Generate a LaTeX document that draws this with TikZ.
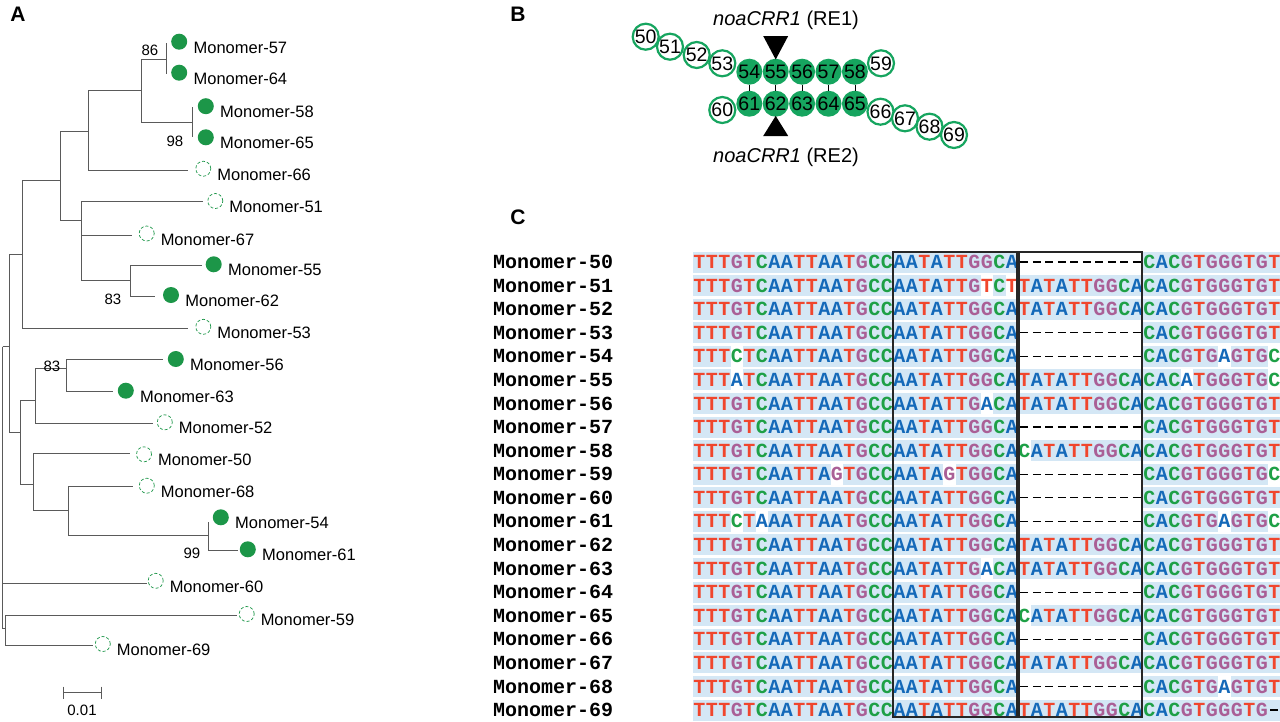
\documentclass[tikz,border=0pt]{standalone}
\usepackage{fontspec}
\setmainfont{Liberation Sans}
\newfontfamily\seqfont{Liberation Mono}
\usetikzlibrary{positioning}

\definecolor{dotgreen}{RGB}{28,150,72}
\definecolor{ringgreen}{RGB}{22,165,95}
\definecolor{rowblue}{RGB}{212,231,245}
\definecolor{ntA}{RGB}{20,105,185}
\definecolor{ntC}{RGB}{30,160,70}
\definecolor{ntG}{RGB}{170,95,150}
\definecolor{ntT}{RGB}{240,70,45}
\definecolor{treegray}{RGB}{90,90,90}

\tikzset{
  branch/.style={draw=treegray, line width=0.9pt},
  fulldot/.style={circle, fill=dotgreen, minimum size=16pt, inner sep=0pt},
  opendot/.style={circle, draw=dotgreen, densely dashed, line width=0.7pt, minimum size=15pt, inner sep=0pt},
  leaflab/.style={anchor=west, font=\fontsize{16.5}{16.5}\selectfont, inner sep=0pt},
  boot/.style={font=\fontsize{15}{15}\selectfont, inner sep=0pt},
  panel/.style={font=\fontsize{21}{21}\selectfont\bfseries, inner sep=0pt},
  mono/.style={circle, minimum size=26pt, inner sep=0pt, font=\fontsize{19.5}{19.5}\selectfont},
  monoopen/.style={mono, draw=ringgreen, line width=2.2pt, fill=white},
  monofull/.style={mono, fill=ringgreen},
  crr/.style={font=\fontsize{20}{20}\selectfont, inner sep=0pt},
  seqname/.style={anchor=west, font=\seqfont\bfseries\fontsize{20}{20}\selectfont, inner sep=0pt},
  base/.style={font=\seqfont\bfseries\fontsize{20}{20}\selectfont, inner sep=0pt},
}

% one aligned row, letter by letter
\makeatletter
\newcount\seqcol
\def\seqline#1{%
  \seqcol=0
  \@tfor\seqch:=#1\do{%
    \pgfmathsetmacro\bx{699.25+12.5*\the\seqcol}%
    \if\seqch-%
      \ifnum\seqcol<36 \fill[white] (\bx-6.25,\ry-10.5) rectangle (\bx+6.25,\ry+10.5);\fi
      \draw[line width=1.2pt] (\bx-4,\ry) -- (\bx+4,\ry);
    \else
      \edef\bcol{nt\seqch}%
      \node[base, text=\bcol] at (\bx,\ry) {\seqch};
    \fi
    \advance\seqcol by 1
  }}
\makeatother

\begin{document}
\begin{tikzpicture}[x=1pt,y=-1pt]
\useasboundingbox (0,0) rectangle (1280,721);
\fill[white] (0,0) rectangle (1280,721);

% A: tree
\node[panel] (pa) at (18,14) {A};
\coordinate (t57) at (166.7,43);   \coordinate (t64) at (166.7,74);
\coordinate (n5764) at (166.7,59.3);
\coordinate (t58) at (192.3,106.7); \coordinate (t65) at (192.3,137.3);
\coordinate (n5865) at (192.3,122.3);
\coordinate (na) at (141.7,90);
\coordinate (t66) at (188.3,170.7);
\coordinate (nb) at (88.3,131.7);
\coordinate (t51) at (203.3,201);  \coordinate (t67) at (131.7,235);
\coordinate (t55) at (201.7,265.7); \coordinate (t62) at (155,296);
\coordinate (n5562) at (130,280.7);
\coordinate (nc) at (81.7,220.7);
\coordinate (ne) at (60,180);
\coordinate (t53) at (188.3,328.3);
\coordinate (nf) at (22.3,254);
\coordinate (t56) at (163.3,359);  \coordinate (t63) at (113.3,391.7);
\coordinate (n5663) at (66.7,368.3);
\coordinate (t52) at (153.3,423.3);
\coordinate (nr) at (35,400);
\coordinate (t50) at (130,453.3);  \coordinate (t68) at (133.3,486.7);
\coordinate (t54) at (208.3,521.7); \coordinate (t61) at (238.3,550.7);
\coordinate (n5461) at (208.3,535);
\coordinate (nt) at (68.3,510.7);
\coordinate (ns) at (33.3,484);
\coordinate (nq) at (20,432.3);
\coordinate (np) at (9.3,346.7);
\coordinate (t60) at (146.7,583.3); \coordinate (t59) at (236.7,615);
\coordinate (t69) at (93.3,645);
\coordinate (n5969) at (5,628.3);
\coordinate (root) at (2.7,346.7);

\foreach \a/\b in {n5764/t57, n5764/t64, n5865/t58, n5865/t65, na/n5764, na/n5865,
  nb/na, nb/t66, n5562/t55, n5562/t62, nc/t51, nc/t67, nc/n5562, ne/nb, ne/nc,
  nf/ne, nf/t53, n5663/t56, n5663/t63, nr/n5663, nr/t52, n5461/t54, n5461/t61,
  nt/t68, nt/n5461, ns/t50, ns/nt, nq/nr, nq/ns, np/nf, np/nq,
  n5969/t59, n5969/t69, root/np, root/t60, root/n5969}
  \draw[branch] (\a) |- (\b);

\foreach \t/\kind/\dx/\dy in {57/fulldot/12.5/1.3, 64/fulldot/12.5/1.3, 58/fulldot/13.5/0.5,
  65/fulldot/13.5/0, 66/opendot/15/2, 51/opendot/12/0, 67/opendot/15/1.5,
  55/fulldot/12/1.4, 62/fulldot/16/1, 53/opendot/15/1.5, 56/fulldot/12.5/0,
  63/fulldot/12.5/1, 52/opendot/11.5/1, 50/opendot/14/-1, 68/opendot/13.5/1,
  54/fulldot/12.5/4.4, 61/fulldot/9.5/1.4, 60/opendot/9/2.5, 59/opendot/10/1,
  69/opendot/9.5/1} {
  \node[\kind, xshift=\dx pt, yshift=\dy pt] (d\t) at (t\t) {};
  \node[leaflab] (l\t) at ([xshift=6pt,yshift=-6pt]d\t.east) {Monomer-\t};
}

\node[boot] (b86) at (150,50) {86};
\node[boot] (b98) at (175,141) {98};
\node[boot] (b83a) at (113,299) {83};
\node[boot] (b83b) at (52,366) {83};
\node[boot] (b99) at (192,553) {99};

\coordinate (sba) at (63.3,692.7);
\coordinate (sbb) at (101.7,692.7);
\draw[branch] (sba) -- (sbb);
\draw[branch] ([yshift=6pt]sba) -- ([yshift=-6pt]sba);
\draw[branch] ([yshift=6pt]sbb) -- ([yshift=-6pt]sbb);
\node[boot] (sb) at (82,710) {0.01};

% B: ring of monomers
\node[panel] (pb) at (518,14) {B};
\node[monoopen] (m50) at (645.7,36.7) {50};
\node[monoopen] (m51) at (670,46.7) {51};
\node[monoopen] (m52) at (696.7,55) {52};
\node[monoopen] (m53) at (722.3,63.3) {53};
\node[monoopen] (m59) at (881,63.3) {59};
\node[monoopen] (m60) at (722.3,110) {60};
\node[monoopen] (m66) at (880.5,111.7) {66};
\node[monoopen] (m67) at (905,118.3) {67};
\node[monoopen] (m68) at (929.5,126.7) {68};
\node[monoopen] (m69) at (954,135) {69};
\node[monofull] (m54) at (749.3,71.7) {54};
\node[monofull, right=0pt of m54] (m55) {55};
\node[monofull, right=0pt of m55] (m56) {56};
\node[monofull, right=0pt of m56] (m57) {57};
\node[monofull, right=0pt of m57] (m58) {58};
\node[monofull, below=5.6pt of m54] (m61) {61};
\node[monofull, right=0pt of m61] (m62) {62};
\node[monofull, right=0pt of m62] (m63) {63};
\node[monofull, right=0pt of m63] (m64) {64};
\node[monofull, right=0pt of m64] (m65) {65};
\foreach \u/\l in {54/61, 55/62, 56/63, 57/64, 58/65}
  \draw[line width=0.8pt] (m\u.south) -- (m\l.north);

\fill ([xshift=-12.5pt]m55.north |- 0,36) -- ([xshift=12.5pt]m55.north |- 0,36) -- ([yshift=-1pt]m55.north) -- cycle;
\fill ([xshift=-12.5pt]m62.south |- 0,136) -- ([xshift=12.5pt]m62.south |- 0,136) -- ([yshift=1pt]m62.south) -- cycle;
\node[crr] (re1) at (786,20) {\textit{noaCRR1} (RE1)};
\node[crr] (re2) at (786,157) {\textit{noaCRR1} (RE2)};

% C: alignment
\node[panel] (pc) at (518,217) {C};
\foreach \k/\m/\s/\w in {
  0/50/{TTTGTCAATTAATGCCAATATTGGCA----------CACGTGGGTGT}/{-1},
  1/51/{TTTGTCAATTAATGCCAATATTGTCTTATATTGGCACACGTGGGTGT}/{23,25},
  2/52/{TTTGTCAATTAATGCCAATATTGGCATATATTGGCACACGTGGGTGT}/{-1},
  3/53/{TTTGTCAATTAATGCCAATATTGGCA----------CACGTGGGTGT}/{-1},
  4/54/{TTTCTCAATTAATGCCAATATTGGCA----------CACGTGAGTGC}/{3,42,46},
  5/55/{TTTATCAATTAATGCCAATATTGGCATATATTGGCACACATGGGTGC}/{3,39,46},
  6/56/{TTTGTCAATTAATGCCAATATTGACATATATTGGCACACGTGGGTGT}/{23},
  7/57/{TTTGTCAATTAATGCCAATATTGGCA----------CACGTGGGTGT}/{-1},
  8/58/{TTTGTCAATTAATGCCAATATTGGCACATATTGGCACACGTGGGTGT}/{26},
  9/59/{TTTGTCAATTAGTGCCAATAGTGGCA----------CACGTGGGTGC}/{11,20,46},
  10/60/{TTTGTCAATTAATGCCAATATTGGCA----------CACGTGGGTGT}/{-1},
  11/61/{TTTCTAAATTAATGCCAATATTGGCA----------CACGTGAGTGC}/{3,5,42,46},
  12/62/{TTTGTCAATTAATGCCAATATTGGCATATATTGGCACACGTGGGTGT}/{-1},
  13/63/{TTTGTCAATTAATGCCAATATTGACATATATTGGCACACGTGGGTGT}/{23},
  14/64/{TTTGTCAATTAATGCCAATATTGGCA----------CACGTGGGTGT}/{-1},
  15/65/{TTTGTCAATTAATGCCAATATTGGCACATATTGGCACACGTGGGTGT}/{26},
  16/66/{TTTGTCAATTAATGCCAATATTGGCA----------CACGTGGGTGT}/{-1},
  17/67/{TTTGTCAATTAATGCCAATATTGGCATATATTGGCACACGTGGGTGT}/{-1},
  18/68/{TTTGTCAATTAATGCCAATATTGGCA----------CACGTGAGTGT}/{42},
  19/69/{TTTGTCAATTAATGCCAATATTGGCATATATTGGCACACGTGGGTG-}/{-1}} {
  \pgfmathsetmacro\ry{262+23.58*\k}
  \fill[rowblue] (693,\ry-10.5) rectangle (1280,\ry+10.5);
  \foreach \p in \w {
    \ifnum\p>-1 \fill[white] (693+12.5*\p,\ry-10.5) rectangle (705.5+12.5*\p,\ry+10.5);\fi
  }
  \expandafter\seqline\expandafter{\s}
  \node[seqname] (s\m) at (493,\ry) {Monomer-\m};
}
\draw[line width=1.3pt, black!85] (893,252) rectangle (1017,717);
\draw[line width=1.3pt, black!85] (1019,252) rectangle (1142,717);
\end{tikzpicture}
\end{document}
